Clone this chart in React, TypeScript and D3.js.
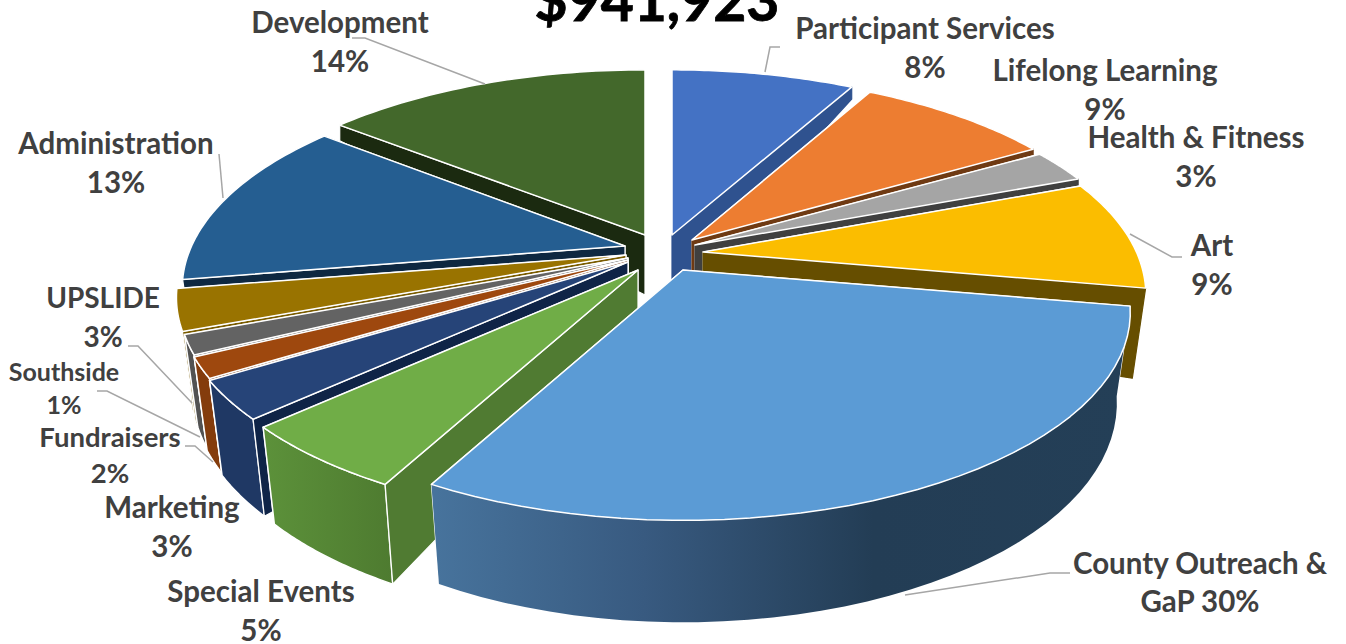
import React from "react";
import * as d3 from "d3";

const categories = ["Participant Services","Lifelong Learning","Health & Fitness","Art","County Outreach & GaP","Special Events","Marketing","Fundraisers","Southside","UPSLIDE","Administration","Development"];
const values = [8.0,8.6,2.6,8.6,30.0,5.3,3.0,1.6,1.5,3.2,13.3,14.3];
const title = "$941,923";

// layout and style, per slice, same order as categories
const tips: [number,number][] = [[672,235],[692,240],[695,245],[703,252],[683,270],[638,270],[628,262],[628,260],[628,258],[626,255],[625,246],[645,235]];
const radiusScale = [1,0.99,1,0.985,0.995,1,1,1,1,1,0.985,1];
const topColors = ["#4472c4","#ed7d31","#a5a5a5","#fbbd00","#5b9bd5","#70ad47","#264478","#9e480e","#636363","#997300","#255e91","#43682b"];
const sideColors = ["#2f528f","#6f3a13","#404040","#664e00","#243f57","#507b32","#0f2447","#6f3510","#4a4a4a","#7a5c00","#0e2841","#1b2a10"];
const wallFills = ["#2f528f","#6f3a13","#404040","#664e00","url(#countyWall)","url(#eventsWall)","#1f3864","#843c0c","#525252","#806000","#1b4a75","#1b2a10"];
const paintOrder = [11,0,1,2,3,10,9,8,7,6,5,4];

const R = 440, RY = 199, K = 0.205;
const depth = d3.scaleLinear().domain([-1,-0.6,0,0.17,0.9,1]).range([10,16,60,90,100,102]).clamp(true);
const bottomScale = d3.scaleLinear().domain([-0.3,0.1]).range([1,0.97]).clamp(true);

const planeV = (a:number) => -Math.cos(a);
const topDelta = (i:number,a:number, r=1):[number,number] => {
  const u = r*Math.sin(a), v = r*planeV(a), w = 1/(1-K*v);
  return [R*radiusScale[i]*u*w, RY*v*w];
};
const topPt = (i:number,a:number,r=1):[number,number] => {
  const [dx,dy] = topDelta(i,a,r);
  return [tips[i][0]+dx, tips[i][1]+dy];
};
const botPt = (i:number,a:number,r=1):[number,number] => {
  const [dx,dy] = topDelta(i,a,r);
  const v = r*planeV(a);
  return [tips[i][0]+dx*bottomScale(v), tips[i][1]+dy+depth(v)];
};
const line = d3.line().curve(d3.curveLinear);
const arcAngles = (a0:number,a1:number) => d3.range(0,41).map(k => a0+(a1-a0)*k/40);

const arcs = d3.pie<number>().value(d=>d).sort(null)(values);

type Lab = {lines:string[]; x:number; y:number; size:number; gap:number};
const labels: Lab[] = [
  {lines:["Development","14%"],x:340,y:33,size:29.5,gap:39},
  {lines:["Participant Services","8%"],x:925,y:39,size:29.5,gap:39},
  {lines:["Lifelong Learning","9%"],x:1105,y:81,size:29.5,gap:39},
  {lines:["Health & Fitness","3%"],x:1196,y:148,size:29.5,gap:39},
  {lines:["Art","9%"],x:1212,y:256,size:29.5,gap:39},
  {lines:["County Outreach &","GaP 30%"],x:1200,y:574,size:29.5,gap:38},
  {lines:["Special Events","5%"],x:261,y:602,size:29.5,gap:39},
  {lines:["Marketing","3%"],x:172,y:518,size:29.5,gap:39},
  {lines:["Fundraisers","2%"],x:110,y:447,size:27.5,gap:36},
  {lines:["Southside","1%"],x:64,y:381,size:25,gap:33},
  {lines:["UPSLIDE","3%"],x:103,y:308,size:28,gap:39},
  {lines:["Administration","13%"],x:116,y:154,size:29.5,gap:39},
];
const leaders: [number,number][][] = [
  [[352,38],[365,38],[485,84]],
  [[780,47],[770,47],[765,72]],
  [[1182,257],[1172,257],[1130,234]],
  [[219,154],[223,198]],
  [[128,346],[138,346],[192,403]],
  [[97,391],[107,391],[200,437]],
  [[185,446],[195,446],[213,462]],
  [[1070,573],[1050,573],[905,595]],
];

export default function App(){
  return (
    <svg width={1346} height={644} style={{position:"absolute",left:0,top:0,background:"#fff"}}
      fontFamily="Lato, 'Open Sans', sans-serif" fontWeight={700}>
      <defs>
        <linearGradient id="countyWall" gradientUnits="userSpaceOnUse" x1={436} x2={1130} y1={0} y2={0}>
          <stop offset="0" stopColor="#47739c"/><stop offset="0.3" stopColor="#385a80"/>
          <stop offset="0.63" stopColor="#233d55"/><stop offset="1" stopColor="#243f57"/>
        </linearGradient>
        <linearGradient id="eventsWall" gradientUnits="userSpaceOnUse" x1={265} x2={392} y1={0} y2={0}>
          <stop offset="0" stopColor="#5c913a"/><stop offset="1" stopColor="#4e7b30"/>
        </linearGradient>
      </defs>
      {paintOrder.map(i=>{
        const {startAngle:a0,endAngle:a1} = arcs[i];
        const angs = arcAngles(a0,a1);
        const outer = line([...angs.map(a=>topPt(i,a)),...angs.slice().reverse().map(a=>botPt(i,a))])+"Z";
        const side = (a:number)=> line([topPt(i,a,0),topPt(i,a),botPt(i,a),botPt(i,a,0)])+"Z";
        const top = line([topPt(i,a0,0),...angs.map(a=>topPt(i,a))])+"Z";
        const startShown = a0 > Math.PI;
        const endShown = a1 < Math.PI;
        return (
          <g key={categories[i]} stroke="#fff" strokeLinejoin="round">
            {!startShown && <path d={side(a0)} fill={sideColors[i]} strokeWidth={1.2}/>}
            {!endShown && <path d={side(a1)} fill={sideColors[i]} strokeWidth={1.2}/>}
            <path d={outer} fill={wallFills[i]} strokeWidth={i===4?0:1.5}/>
            {startShown && <path d={side(a0)} fill={sideColors[i]} strokeWidth={1.2}/>}
            {endShown && <path d={side(a1)} fill={sideColors[i]} stroke={sideColors[i]} strokeWidth={1.2}/>}
            <path d={top} fill={topColors[i]} strokeWidth={1.5}/>
          </g>
        );
      })}
      {leaders.map((p,i)=><path key={i} d={line(p)!} fill="none" stroke="#a6a6a6" strokeWidth={1.5}/>)}
      <text x={657} y={21} textAnchor="middle" fontSize={57} fill="#000" stroke="#000" strokeWidth={0.8}>{title}</text>
      {labels.map(l=>(
        <text key={l.lines[0]} textAnchor="middle" fontSize={l.size} fill="#404040">
          {l.lines.map((s,j)=><tspan key={j} x={l.x} y={l.y+j*l.gap}>{s}</tspan>)}
        </text>
      ))}
    </svg>
  );
}
